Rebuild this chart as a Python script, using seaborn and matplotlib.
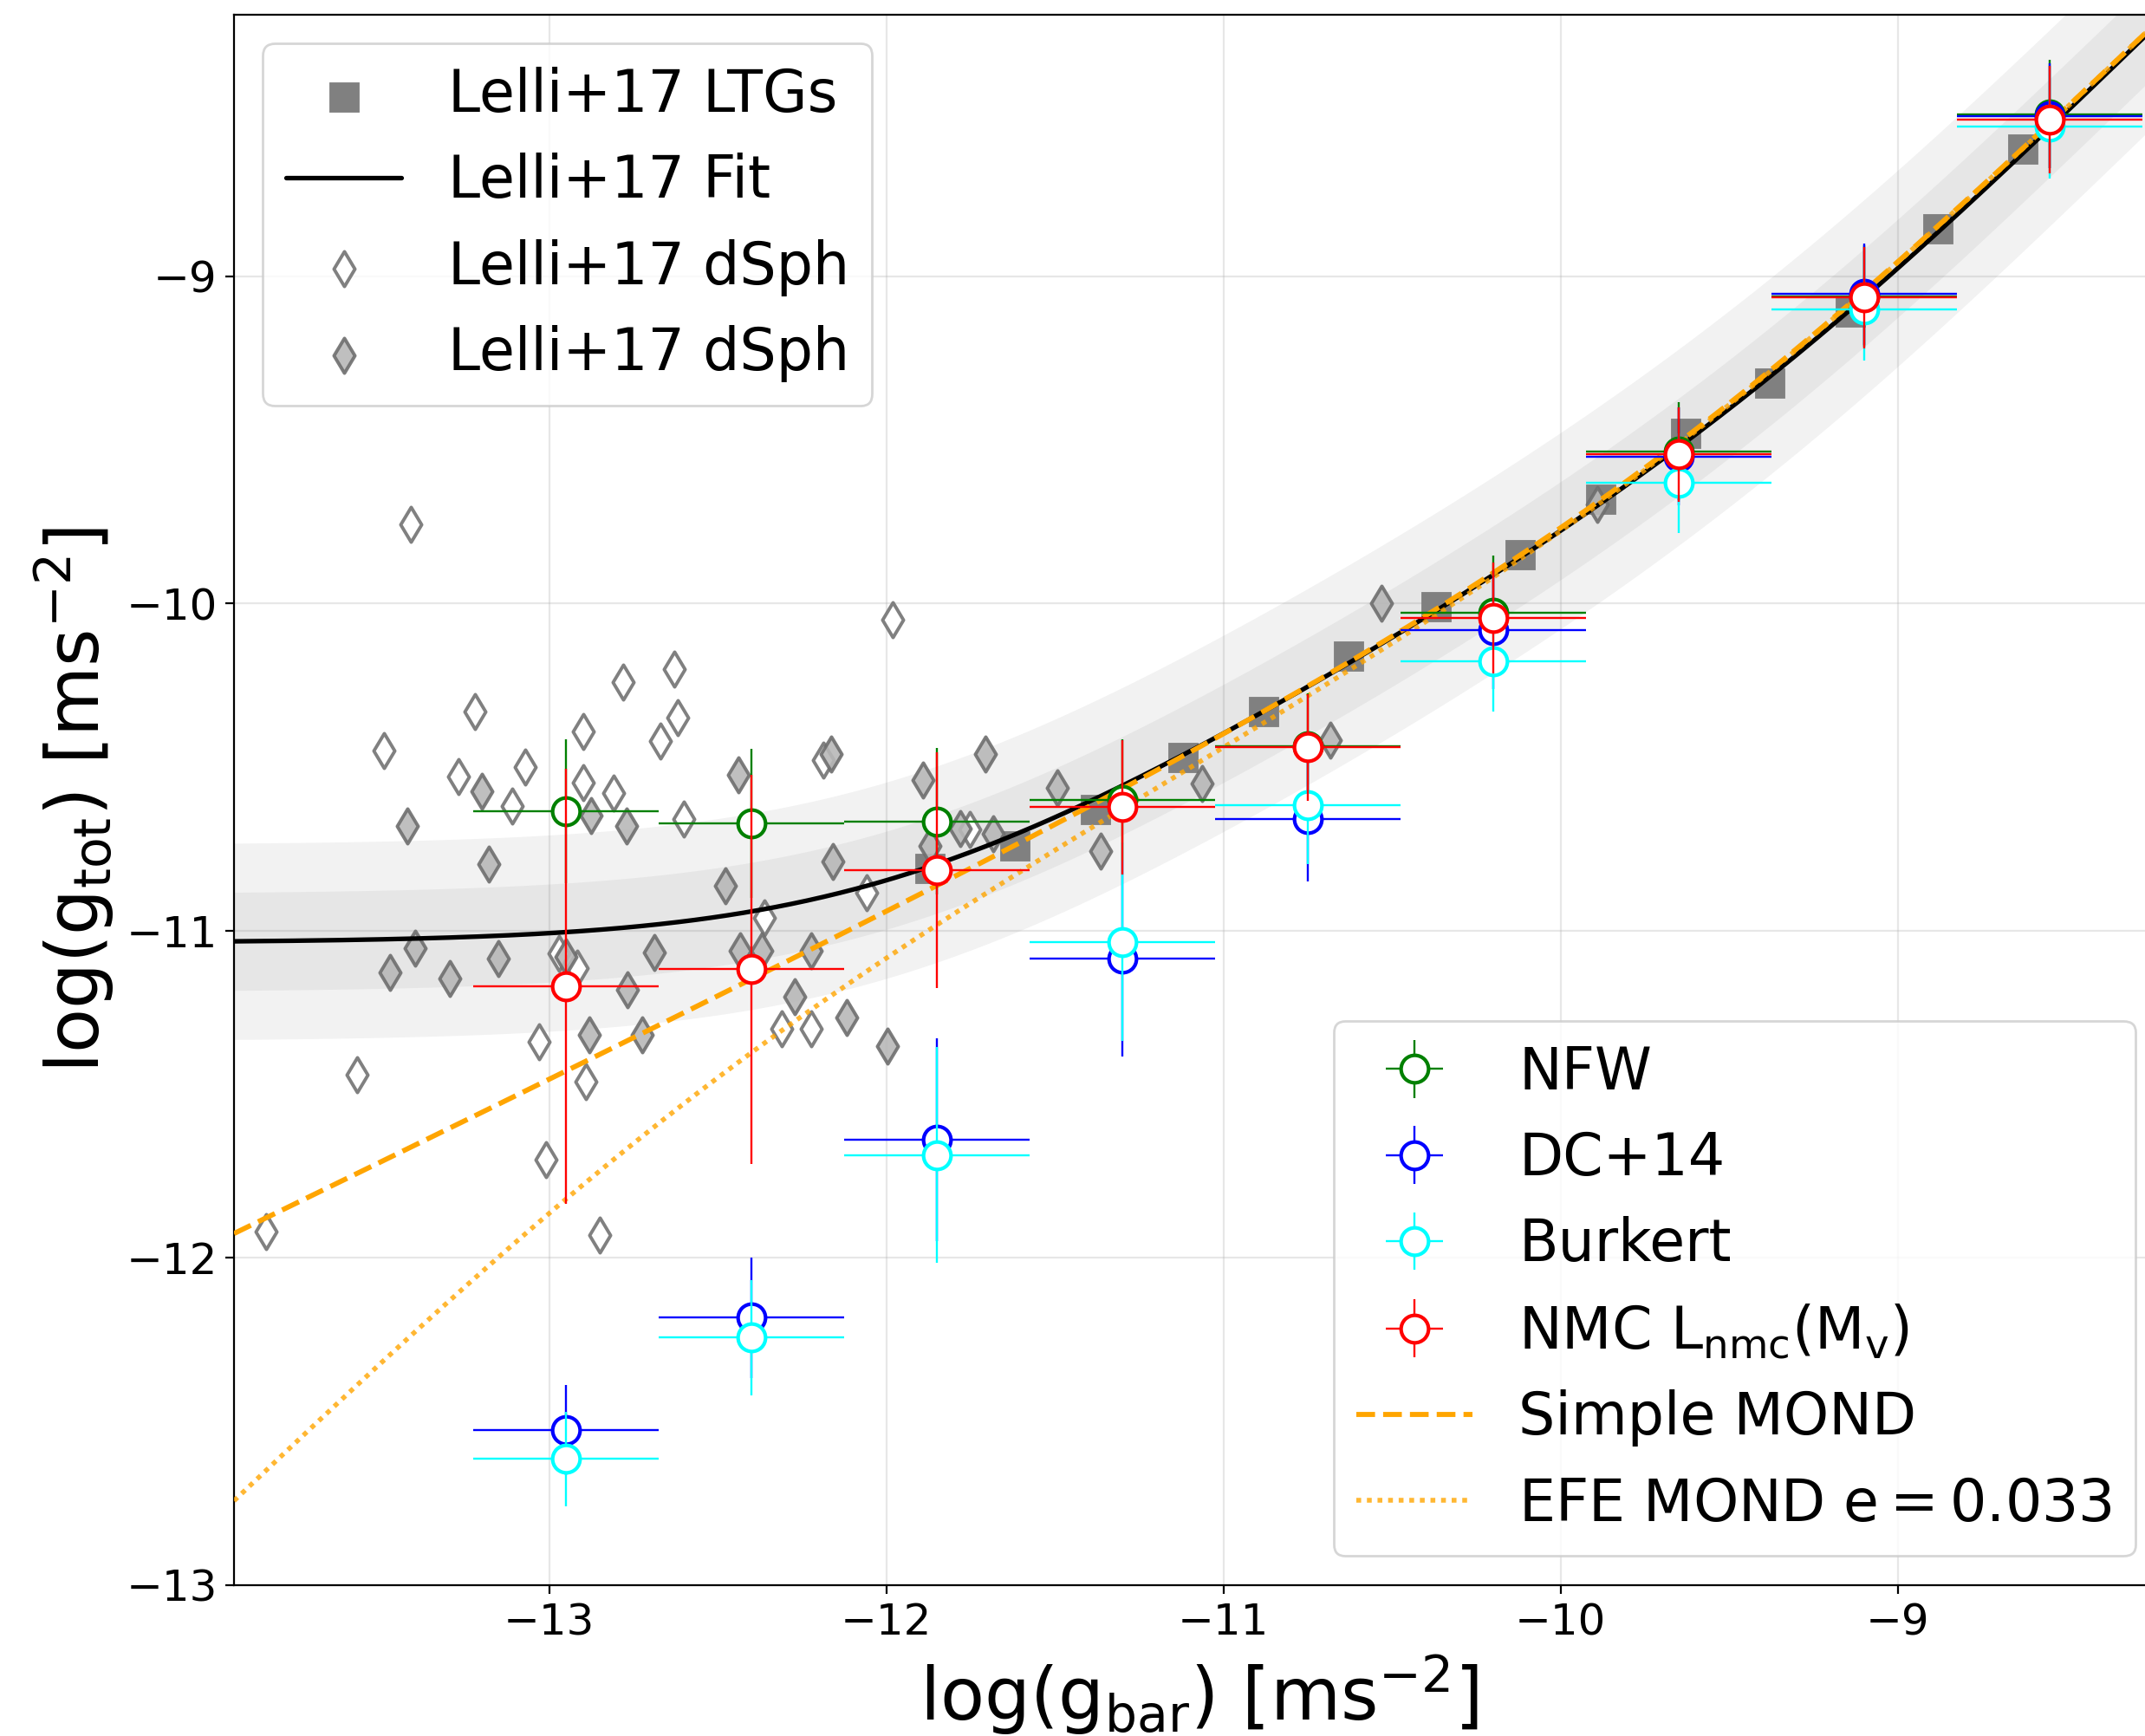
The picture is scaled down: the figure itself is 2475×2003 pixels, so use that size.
import numpy as np
import matplotlib
matplotlib.use("Agg")
import matplotlib.pyplot as plt
import seaborn as sns

# ---------------- data ----------------
ltg_x = [-11.87, -11.62, -11.38, -11.12, -10.88, -10.63, -10.37, -10.12,
         -9.88, -9.63, -9.38, -9.14, -8.88, -8.63]
ltg_y = [-10.81, -10.74, -10.63, -10.47, -10.33, -10.16, -10.01, -9.85,
         -9.68, -9.48, -9.325, -9.11, -8.855, -8.61]

dsph_open_x = [-13.41, -13.49, -13.22, -13.27, -13.07, -13.11, -12.90, -12.90,
               -12.78, -12.81, -12.67, -12.63, -12.62, -11.98, -12.60, -12.186,
               -11.753, -12.97, -12.918, -13.03, -13.57, -12.891, -13.01,
               -13.839, -12.85, -12.361, -12.059, -12.31, -12.222]
dsph_open_y = [-9.757, -10.45, -10.33, -10.529, -10.499, -10.62, -10.39, -10.548,
               -10.24, -10.579, -10.42, -10.20, -10.35, -10.05, -10.66, -10.479,
               -10.69, -11.07, -11.115, -11.34, -11.44, -11.461, -11.70,
               -11.919, -11.93, -10.96, -10.885, -11.30, -11.30]

dsph_fill_x = [-13.20, -13.42, -12.875, -12.77, -13.18, -12.163, -12.439, -11.89,
               -11.706, -11.492, -11.781, -11.682, -11.87, -12.158, -13.471,
               -13.398, -13.296, -13.15, -12.95, -12.769, -12.687, -12.88,
               -12.724, -12.477, -12.434, -12.37, -12.222, -12.271, -12.117,
               -11.997, -11.363, -11.063, -10.683, -10.532, -9.890]
dsph_fill_y = [-10.574, -10.68, -10.649, -10.68, -10.797, -10.459, -10.523, -10.54,
               -10.459, -10.563, -10.688, -10.705, -10.74, -10.788, -11.128,
               -11.053, -11.146, -11.084, -11.08, -11.181, -11.066, -11.318,
               -11.318, -10.863, -11.062, -11.062, -11.062, -11.203, -11.265,
               -11.353, -10.757, -10.549, -10.417, -10.0, -9.698]

bin_x = [-12.95, -12.40, -11.85, -11.30, -10.75, -10.20, -9.65, -9.10, -8.55]
bin_xerr = [0.275, 0.275, 0.275, 0.275, 0.275, 0.275, 0.275, 0.275, 0.275]

nfw_y = [-10.635, -10.673, -10.666, -10.60, -10.435, -10.029, -9.535, -9.06, -8.504]
nfw_err = [0.22, 0.228, 0.224, 0.185, 0.16, 0.175, 0.15, 0.155, 0.165]
dc14_y = [-12.527, -12.183, -11.64, -11.085, -10.66, -10.08, -9.55, -9.054, -8.509]
dc14_err = [0.138, 0.185, 0.31, 0.30, 0.19, 0.18, 0.15, 0.155, 0.16]
burk_y = [-12.615, -12.244, -11.686, -11.034, -10.617, -10.177, -9.632, -9.101, -8.541]
burk_err = [0.145, 0.177, 0.33, 0.304, 0.18, 0.152, 0.152, 0.156, 0.16]
nmc_y = [-11.169, -11.118, -10.814, -10.622, -10.439, -10.044, -9.544, -9.065, -8.521]
nmc_err = [0.665, 0.595, 0.36, 0.205, 0.163, 0.17, 0.145, 0.155, 0.165]

# model parameters (Lelli+17 fit, MOND)
G_DAG = 1.2e-10     # Lelli+17 acceleration scale
G_HAT = 9.2e-12     # Lelli+17 low-acceleration floor
A0 = 1.2e-10        # MOND a0
E_EFE = 0.033       # external field strength
SIG1, SIG2 = 0.15, 0.30

XLIM = (-13.935, -8.21)
YLIM = (-13.0, -8.2)

# ---------------- style ----------------
sns.set_theme(style="ticks")
plt.rcParams.update({
    "font.family": ["DejaVu Sans"],
    "mathtext.fontset": "dejavusans",
    "text.color": "black",
    "axes.labelcolor": "black",
    "axes.edgecolor": "black",
    "axes.linewidth": 0.8,
    "xtick.color": "black", "ytick.color": "black",
    "xtick.labelcolor": "black", "ytick.labelcolor": "black",
    "xtick.major.size": 3.5, "ytick.major.size": 3.5,
    "xtick.major.width": 0.8, "ytick.major.width": 0.8,
    "xtick.direction": "out", "ytick.direction": "out",
    "legend.frameon": True, "legend.framealpha": 0.8,
    "legend.edgecolor": "0.8", "legend.fancybox": True,
    "legend.labelcolor": "black",
})

fig = plt.figure(figsize=(12.375, 10.015), dpi=200)
ax = fig.add_axes([270 / 2475, 0.08702, (2497 - 270) / 2475, 0.90449])

# ---------------- model curves ----------------
xg = np.linspace(XLIM[0], XLIM[1], 600)
gb = 10.0 ** xg
fit = np.log10(gb / (1 - np.exp(-np.sqrt(gb / G_DAG)))
               + G_HAT * np.exp(-np.sqrt(gb * G_DAG) / G_HAT))
yy = gb / A0
simple = np.log10(gb * (0.5 + np.sqrt(0.25 + 1.0 / yy)))
Ae = E_EFE * (1 + E_EFE / 2) / (1 + E_EFE)
Be = 1 + E_EFE
efe = np.log10(gb * (0.5 - Ae / yy + np.sqrt((0.5 - Ae / yy) ** 2 + Be / yy)))

ax.fill_between(xg, fit - SIG2, fit + SIG2, color="gray", alpha=0.1, lw=0, zorder=1)
ax.fill_between(xg, fit - SIG1, fit + SIG1, color="gray", alpha=0.1, lw=0, zorder=1)

# LTG squares
sns.scatterplot(x=ltg_x, y=ltg_y, marker="s", s=158, color="gray",
                edgecolor="gray", linewidth=0.3, ax=ax, legend=False, zorder=2)
h_ltg = ax.collections[-1]

# dSph diamonds
sns.scatterplot(x=dsph_open_x, y=dsph_open_y, marker="d", s=105, color="white",
                edgecolor="gray", linewidth=1.4, ax=ax, legend=False, zorder=2.2)
h_open = ax.collections[-1]
sns.scatterplot(x=dsph_fill_x, y=dsph_fill_y, marker="d", s=105, color="#b8b8b8",
                edgecolor="#6e6e6e", linewidth=1.4, alpha=0.9, ax=ax, legend=False,
                zorder=2.3)
h_fill = ax.collections[-1]

# model lines
sns.lineplot(x=xg, y=fit, color="black", lw=1.9, ax=ax, legend=False, zorder=3,
             sort=False, estimator=None)
h_fit = ax.lines[-1]
sns.lineplot(x=xg, y=efe, color="orange", lw=2.0, dashes=(1, 1.2), alpha=0.8,
             ax=ax, legend=False, zorder=3.1, sort=False, estimator=None)
h_efe = ax.lines[-1]
h_efe.set_linestyle((0, (1, 1.2)))
sns.lineplot(x=xg, y=simple, color="orange", lw=2.1, ls="--", ax=ax,
             legend=False, zorder=3.2, sort=False, estimator=None)
h_simple = ax.lines[-1]

# binned model results
series = [("NFW", nfw_y, nfw_err, "green"),
          ("DC+14", dc14_y, dc14_err, "blue"),
          ("Burkert", burk_y, burk_err, "cyan"),
          (r"NMC L$_{\rm nmc}$(M$_{\rm v}$)", nmc_y, nmc_err, "red")]
eb_handles = []
for i, (lab, yv, ye, col) in enumerate(series):
    eb = ax.errorbar(bin_x, yv, xerr=bin_xerr, yerr=ye, fmt="o", color=col,
                     mfc="white", mec=col, ms=11.4, mew=1.5, elinewidth=0.85,
                     capsize=0, zorder=4 + i)
    eb_handles.append(eb)

ax.set_xlim(*XLIM)
ax.set_ylim(*YLIM)
ax.set_xticks([-13, -12, -11, -10, -9])
ax.set_yticks([-13, -12, -11, -10, -9])
ax.tick_params(labelsize=18, colors="black")
ax.grid(True, color="#b0b0b0", alpha=0.3, lw=0.8)
ax.set_xlabel(r"log(g$_{\rm bar}$) [ms$^{-2}$]", fontsize=30, color="black")
ax.set_ylabel(r"log(g$_{\rm tot}$) [ms$^{-2}$]", fontsize=30, color="black")

leg1 = ax.legend([h_ltg, h_fit, h_open, h_fill],
                 ["Lelli+17 LTGs", "Lelli+17 Fit", "Lelli+17 dSph", "Lelli+17 dSph"],
                 loc="upper left", fontsize=24, scatterpoints=1, labelcolor="black")
ax.add_artist(leg1)
ax.legend(eb_handles + [h_simple, h_efe],
          [s[0] for s in series] + ["Simple MOND", r"EFE MOND $\rm e = 0.033$"],
          loc="lower right", fontsize=24, labelcolor="black")

fig.savefig("out.png", dpi=200)
